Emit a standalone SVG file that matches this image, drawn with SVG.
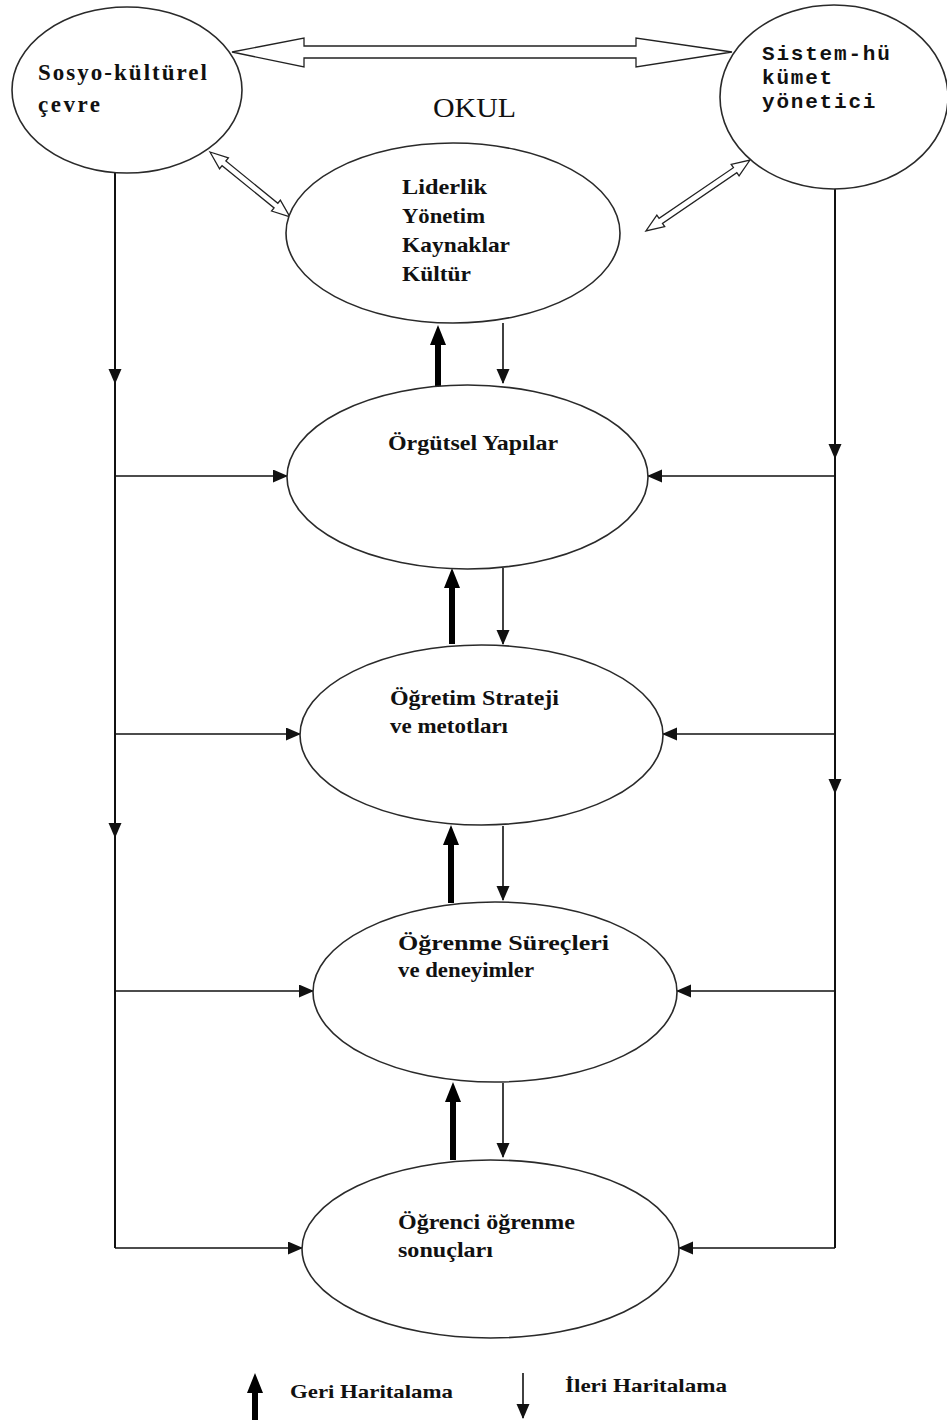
<svg xmlns="http://www.w3.org/2000/svg" width="947" height="1425" viewBox="0 0 947 1425">
  <style>
    .node { fill: #ffffff; stroke: #2a2a2a; stroke-width: 1.6; }
    .lbl { font-family: "Liberation Serif", "Times New Roman", serif; font-weight: bold; fill: #111; }
    .s19 { font-size: 19px; }
    .s20 { font-size: 20px; }
    .s21 { font-size: 21px; }
    .s23 { font-size: 23px; }
    .mono { font-family: "Liberation Mono", "Courier New", monospace; font-weight: bold; font-size: 21px; letter-spacing: 1.8px; fill: #111; }
    .wire { fill: none; stroke: #111; stroke-width: 2; }
    .fwd { fill: none; stroke: #111; stroke-width: 1.6; marker-end: url(#thin); }
    .back { fill: none; stroke: #000; stroke-width: 6; marker-end: url(#thick); }
    .hollow { fill: #ffffff; stroke: #222; stroke-width: 1.3; stroke-linejoin: miter; }
  </style>
  <defs>
    <marker id="thin" markerUnits="userSpaceOnUse" markerWidth="16" markerHeight="14" refX="14" refY="6.5" orient="auto">
      <path d="M0,0 L15,6.5 L0,13 z" fill="#111"/>
    </marker>
    <marker id="thick" markerUnits="userSpaceOnUse" markerWidth="22" markerHeight="18" refX="4" refY="8" orient="auto">
      <path d="M0,0 L20,8 L0,16 z" fill="#000"/>
    </marker>
    <!-- hollow two-headed arrows, drawn along +x -->
    <polygon id="dbl103" points="0,0 18,-7 18,-3 85,-3 85,-7 103,0 85,7 85,3 18,3 18,7"/>
    <polygon id="dbl126" points="0,0 18,-7 18,-3 108,-3 108,-7 126,0 108,7 108,3 18,3 18,7"/>
  </defs>

  <rect width="947" height="1425" fill="#ffffff"/>

  <!-- connectors -->
  <g id="connectors">
    <!-- environment ↔ system -->
    <polygon class="hollow" points="232,52 304,38 304,46 636,46 636,38 732,52 636,67 636,58 304,58 304,67"/>
    <use href="#dbl103" class="hollow" transform="translate(210,152) rotate(39.1)"/>
    <use href="#dbl126" class="hollow" transform="translate(750,160) rotate(145.7)"/>

    <!-- left trunk -->
    <path class="wire" d="M115,173 V1248"/>
    <path class="fwd" d="M115,300 V383"/>
    <path class="fwd" d="M115,760 V837"/>
    <path class="fwd" d="M115,476 H287"/>
    <path class="fwd" d="M115,734 H300"/>
    <path class="fwd" d="M115,991 H313"/>
    <path class="fwd" d="M115,1248 H302"/>

    <!-- right trunk -->
    <path class="wire" d="M835,188 V1248"/>
    <path class="fwd" d="M835,380 V458"/>
    <path class="fwd" d="M835,720 V793"/>
    <path class="fwd" d="M835,476 H648"/>
    <path class="fwd" d="M835,734 H663"/>
    <path class="fwd" d="M835,991 H677"/>
    <path class="fwd" d="M835,1248 H679"/>

    <!-- feedback (up) and forward (down) mapping between levels -->
    <path class="back" d="M438,387 V341"/>
    <path class="fwd" d="M503,323 V383"/>
    <path class="back" d="M452,644 V584"/>
    <path class="fwd" d="M503,568 V644"/>
    <path class="back" d="M451,903 V841"/>
    <path class="fwd" d="M503,826 V900"/>
    <path class="back" d="M453,1160 V1098"/>
    <path class="fwd" d="M503,1083 V1157"/>
  </g>

  <!-- nodes -->
  <g id="sosyo">
    <ellipse class="node" cx="127" cy="90" rx="115" ry="83"/>
    <text class="lbl s23" x="38" y="80" textLength="169" lengthAdjust="spacing">Sosyo-kültürel</text>
    <text class="lbl s23" x="38" y="112" textLength="62" lengthAdjust="spacing">çevre</text>
  </g>

  <g id="sistem">
    <ellipse class="node" cx="834" cy="97" rx="114" ry="92"/>
    <text class="mono" x="762" y="60">Sistem-hü</text>
    <text class="mono" x="762" y="84">kümet</text>
    <text class="mono" x="762" y="108">yönetici</text>
  </g>

  <g id="okul">
    <text x="433" y="117" font-family="Liberation Serif, Times New Roman, serif" font-size="28" fill="#111" textLength="83" lengthAdjust="spacingAndGlyphs">OKUL</text>
  </g>

  <g id="liderlik">
    <ellipse class="node" cx="453" cy="233" rx="167" ry="90"/>
    <text class="lbl s21" x="402" y="194" textLength="85" lengthAdjust="spacingAndGlyphs">Liderlik</text>
    <text class="lbl s21" x="402" y="223" textLength="83" lengthAdjust="spacingAndGlyphs">Yönetim</text>
    <text class="lbl s21" x="402" y="252" textLength="108" lengthAdjust="spacingAndGlyphs">Kaynaklar</text>
    <text class="lbl s21" x="402" y="281" textLength="69" lengthAdjust="spacingAndGlyphs">Kültür</text>
  </g>

  <g id="orgutsel">
    <ellipse class="node" cx="467.5" cy="477" rx="180.5" ry="92"/>
    <text class="lbl s20" x="388" y="450" textLength="170" lengthAdjust="spacingAndGlyphs">Örgütsel Yapılar</text>
  </g>

  <g id="ogretim">
    <ellipse class="node" cx="481.5" cy="735" rx="181.5" ry="90"/>
    <text class="lbl s20" x="390" y="705" textLength="169" lengthAdjust="spacingAndGlyphs">Öğretim Strateji</text>
    <text class="lbl s20" x="390" y="733" textLength="118" lengthAdjust="spacingAndGlyphs">ve metotları</text>
  </g>

  <g id="ogrenme">
    <ellipse class="node" cx="495" cy="992" rx="182" ry="90"/>
    <text class="lbl s20" x="398" y="950" textLength="211" lengthAdjust="spacingAndGlyphs">Öğrenme Süreçleri</text>
    <text class="lbl s20" x="398" y="977" textLength="136" lengthAdjust="spacingAndGlyphs">ve deneyimler</text>
  </g>

  <g id="ogrenci">
    <ellipse class="node" cx="490.5" cy="1249" rx="188.5" ry="89"/>
    <text class="lbl s20" x="398" y="1229" textLength="177" lengthAdjust="spacingAndGlyphs">Öğrenci öğrenme</text>
    <text class="lbl s20" x="398" y="1257" textLength="95" lengthAdjust="spacingAndGlyphs">sonuçları</text>
  </g>

  <!-- legend -->
  <g id="legend">
    <path class="back" d="M255,1420 V1389"/>
    <text class="lbl s19" x="290" y="1398" textLength="163" lengthAdjust="spacingAndGlyphs">Geri Haritalama</text>
    <path class="fwd" d="M523,1373 V1418"/>
    <text class="lbl s19" x="565" y="1392" textLength="162" lengthAdjust="spacingAndGlyphs">İleri Haritalama</text>
  </g>
</svg>
